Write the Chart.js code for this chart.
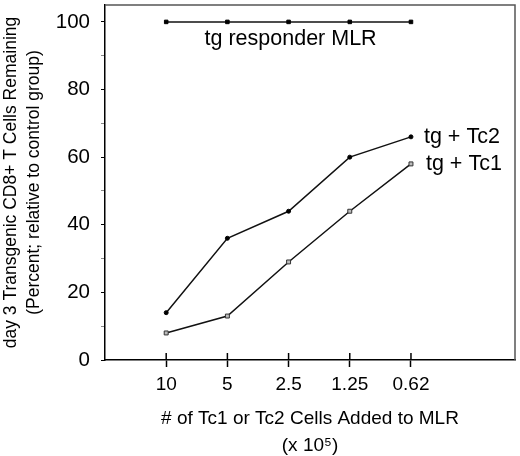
<!DOCTYPE html>
<html>
<head>
<meta charset="utf-8">
<script src="https://cdn.jsdelivr.net/npm/chart.js@4.4.1/dist/chart.umd.min.js"></script>
<style>
  html, body { margin: 0; padding: 0; background: #fff; }
  #wrap { width: 520px; height: 456px; }
</style>
</head>
<body>
<div id="wrap"><canvas id="grafico"></canvas></div>
<script>
// categorias do eixo x (numero de celulas, x 10^5)
const categorias = ["10", "5", "2.5", "1.25", "0.62"];
// valores das series (percentual restante)
const responderMLR = [100, 100, 100, 100, 100];
const tgTc2 = [14, 36, 44, 60, 66];
const tgTc1 = [8, 13, 29, 44, 58];
// nomes das series
const nomes = ["tg responder MLR", "tg + Tc2", "tg + Tc1"];
const ticksY = [0, 10, 20, 30, 40, 50, 60, 70, 80, 90, 100];

const fonte = "'Liberation Sans', Arial, Helvetica, sans-serif";

function pontos(valores) {
    return valores.map(function (v, i) { return { x: i + 1, y: v }; });
}

// desenha a moldura, os ticks internos do eixo x e os rotulos das series
const extras = {
    id: "extras",
    afterDraw(chart) {
        const ctx = chart.ctx;
        const area = chart.chartArea;
        const sx = chart.scales.x;
        const sy = chart.scales.y;
        ctx.save();
        // moldura de cima e da direita
        ctx.strokeStyle = "#555";
        ctx.lineWidth = 1.5;
        ctx.beginPath();
        ctx.moveTo(area.left, area.top);
        ctx.lineTo(area.right, area.top);
        ctx.lineTo(area.right, area.bottom);
        ctx.stroke();
        // parte interna dos ticks do eixo x
        ctx.strokeStyle = "#000";
        ctx.lineWidth = 1.5;
        sx.ticks.forEach(function (t) {
            const px = sx.getPixelForValue(t.value);
            ctx.beginPath();
            ctx.moveTo(px, area.bottom);
            ctx.lineTo(px, area.bottom - 7);
            ctx.stroke();
        });
        // rotulos das series
        ctx.fillStyle = "#000";
        ctx.font = "21.5px " + fonte;
        ctx.textBaseline = "middle";
        ctx.textAlign = "center";
        ctx.fillText(nomes[0], sx.getPixelForValue(3) + 2, sy.getPixelForValue(responderMLR[2]) + 17);
        ctx.textAlign = "left";
        ctx.fillText(nomes[1], sx.getPixelForValue(5) + 13, sy.getPixelForValue(tgTc2[4]));
        ctx.fillText(nomes[2], sx.getPixelForValue(5) + 15, sy.getPixelForValue(tgTc1[4]));
        ctx.restore();
    }
};

const ctx = document.getElementById("grafico").getContext("2d");
const chart = new Chart(ctx, {
    type: "line",
    data: {
        datasets: [
            {
                label: nomes[0],
                data: pontos(responderMLR),
                borderColor: "#111",
                borderWidth: 1.5,
                pointStyle: "rect",
                pointRadius: 2.5,
                pointBackgroundColor: "#000",
                pointBorderColor: "#000",
                pointBorderWidth: 1
            },
            {
                label: nomes[1],
                data: pontos(tgTc2),
                borderColor: "#111",
                borderWidth: 1.5,
                pointStyle: "circle",
                pointRadius: 2,
                pointBackgroundColor: "#000",
                pointBorderColor: "#000",
                pointBorderWidth: 1
            },
            {
                label: nomes[2],
                data: pontos(tgTc1),
                borderColor: "#111",
                borderWidth: 1.5,
                pointStyle: "rect",
                pointRadius: 2.8,
                pointBackgroundColor: "#bbb",
                pointBorderColor: "#333",
                pointBorderWidth: 1
            }
        ]
    },
    options: {
        responsive: true,
        maintainAspectRatio: false,
        animation: false,
        layout: { padding: { top: 2, right: 3, left: 0, bottom: 0 } },
        plugins: {
            legend: { display: false },
            tooltip: { enabled: false }
        },
        scales: {
            x: {
                type: "linear",
                min: 0,
                max: 6.7,
                afterBuildTicks(scale) {
                    scale.ticks = categorias.map(function (c, i) { return { value: i + 1 }; });
                },
                afterFit(scale) {
                    scale.height = 96;
                    scale.paddingLeft = 0;
                    scale.paddingRight = 0;
                },
                ticks: {
                    color: "#000",
                    font: { family: fonte, size: 19 },
                    padding: 6,
                    maxRotation: 0,
                    autoSkip: false,
                    callback: function (v) { return categorias[v - 1]; }
                },
                grid: {
                    drawOnChartArea: false,
                    drawTicks: true,
                    tickLength: 7,
                    tickWidth: 1.5,
                    tickColor: "#000"
                },
                border: { display: true, color: "#000", width: 1.5 },
                title: {
                    display: true,
                    text: ["# of Tc1 or Tc2 Cells Added to MLR", "(x 10\u2075)"],
                    color: "#000",
                    font: { family: fonte, size: 19, lineHeight: 1.42 },
                    padding: { top: 0, bottom: -3 }
                }
            },
            y: {
                min: 0,
                max: 105,
                afterBuildTicks(scale) {
                    scale.ticks = ticksY.map(function (v) { return { value: v }; });
                },
                afterFit(scale) {
                    scale.width = 105;
                    scale.paddingTop = 0;
                    scale.paddingBottom = 0;
                },
                ticks: {
                    color: "#000",
                    font: { family: fonte, size: 20.5 },
                    padding: 11,
                    autoSkip: false,
                    callback: function (v) { return v % 20 === 0 ? String(v) : ""; }
                },
                grid: {
                    drawOnChartArea: false,
                    drawTicks: true,
                    tickLength: 4,
                    tickWidth: 1,
                    tickColor: function (c) { return c.tick && c.tick.value % 20 === 0 ? "#000" : "#888"; }
                },
                border: { display: true, color: "#000", width: 1.5 },
                title: {
                    display: true,
                    text: ["day 3 Transgenic CD8+ T Cells Remaining", "(Percent; relative to control group)"],
                    color: "#000",
                    font: { family: fonte, size: 17.5, lineHeight: 1.3 },
                    padding: { top: 0, bottom: 0 }
                }
            }
        }
    },
    plugins: [extras]
});
</script>
</body>
</html>
